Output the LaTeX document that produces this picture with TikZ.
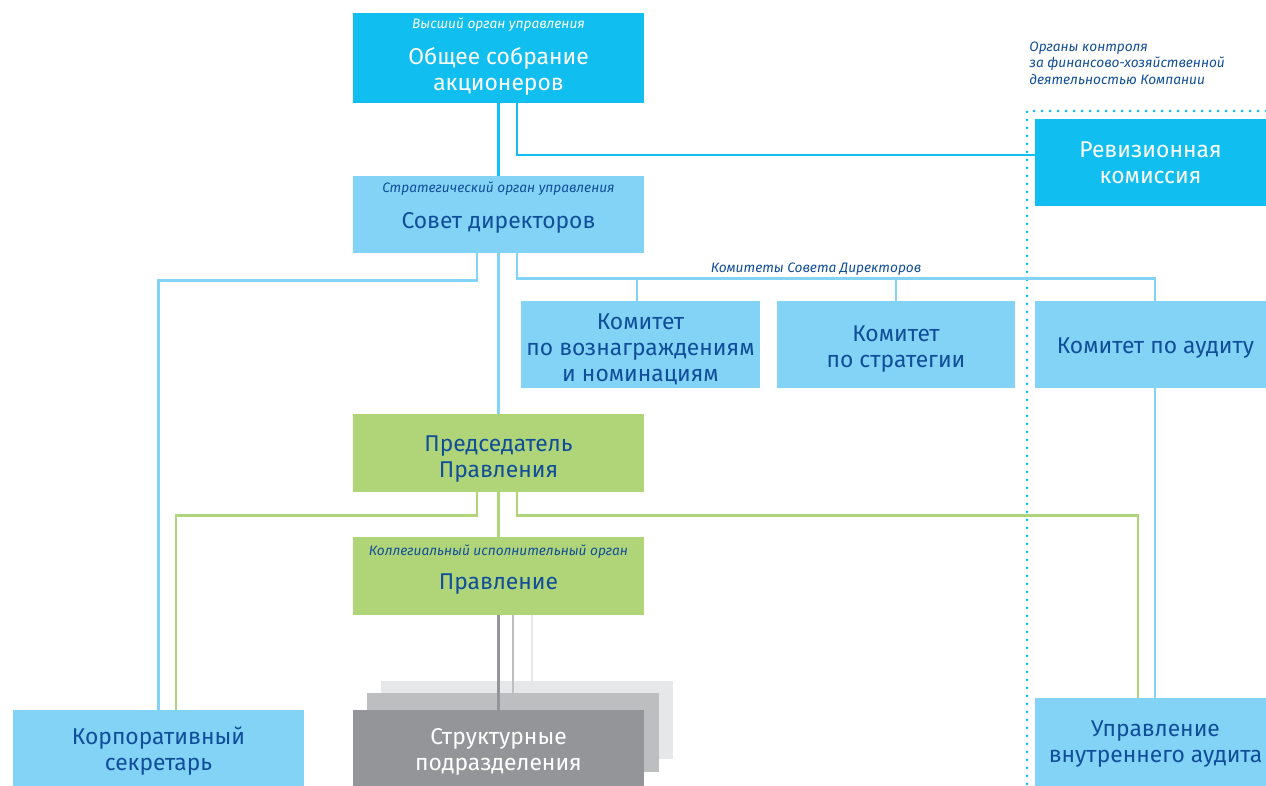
\documentclass[tikz,border=0pt]{standalone}
\usepackage{fontspec}
\setmainfont{Fira Sans}
\usepackage{xcolor}

\definecolor{topblue}{RGB}{16,190,240}
\definecolor{paleblue}{RGB}{131,211,247}
\definecolor{leafgreen}{RGB}{176,213,120}
\definecolor{inkblue}{RGB}{16,78,153}
\definecolor{greyA}{RGB}{147,149,152}
\definecolor{greyB}{RGB}{188,190,192}
\definecolor{greyC}{RGB}{230,231,232}

\begin{document}
\begin{tikzpicture}[x=0.02cm, y=-0.02cm,
    box/.style 2 args={minimum width=#1*0.02cm, minimum height=#2*0.02cm, inner sep=0pt},
    txt/.style={inner sep=0pt, align=center, font=\fontsize{13}{14.8}\selectfont},
    caption/.style={font=\fontsize{7.8}{9.4}\selectfont\itshape, inner sep=0pt},
    link/.style={line width=1.6pt}]

    \useasboundingbox (0,0) rectangle (1266,786);

    % Control bodies frame
    \draw[topblue, line width=1.7pt, line cap=round, dash pattern=on 0pt off 0.16cm]
        (1266,111) -- (1027,111) -- (1027,786);
    \node[caption, inkblue, align=left, anchor=west] (ctrl) at (1029,63)
        {Органы контроля\\за финансово-хозяйственной\\деятельностью Компании};

    % Boxes
    \node[box={291}{90}, fill=topblue] (gms) at (498.5,58) {};
    \node[caption, white] at ([yshift=-0.24cm]gms.north) {Высший орган управления};
    \node[txt, white] at ([yshift=-0.26cm]gms.center) {Общее собрание\\акционеров};

    \node[box={231}{87}, fill=topblue] (rev) at (1150.5,162.5) {};
    \node[txt, white] at (rev.center) {Ревизионная\\комиссия};

    \node[box={291}{77}, fill=paleblue] (board) at (498.5,214.5) {};
    \node[caption, inkblue] at ([yshift=-0.26cm]board.north) {Стратегический орган управления};
    \node[txt, inkblue] at ([yshift=-0.17cm]board.center) {Совет директоров};

    \node[box={239}{87}, fill=paleblue] (com1) at (640.5,344.5) {};
    \node[txt, inkblue] at ([yshift=-0.1cm]com1.center) {Комитет\\по вознаграждениям\\и номинациям};
    \node[box={238}{87}, fill=paleblue] (com2) at (896,344.5) {};
    \node[txt, inkblue] at ([yshift=-0.1cm]com2.center) {Комитет\\по стратегии};
    \node[box={231}{87}, fill=paleblue] (com3) at (1150.5,344.5) {};
    \node[txt, inkblue] at ([xshift=0.1cm, yshift=-0.08cm]com3.center) {Комитет по аудиту};

    \node[box={291}{78}, fill=leafgreen] (chair) at (498.5,453) {};
    \node[txt, inkblue] at ([yshift=-0.12cm]chair.center) {Председатель\\Правления};

    \node[box={291}{78}, fill=leafgreen] (exec) at (498.5,576) {};
    \node[caption, inkblue] at ([yshift=-0.3cm]exec.north) {Коллегиальный исполнительный орган};
    \node[txt, inkblue] at ([yshift=-0.16cm]exec.center) {Правление};

    \node[box={291}{76}, fill=paleblue] (corp) at (158.5,748) {};
    \node[txt, inkblue] at ([yshift=-0.06cm]corp.center) {Корпоративный\\секретарь};

    \node[box={292}{78}, fill=greyC] (units3) at (527,720) {};
    \node[box={292}{79}, fill=greyB] (units2) at (513,732.5) {};
    \node[box={291}{76}, fill=greyA] (units) at (498.5,748) {};
    \node[txt, white] at ([yshift=-0.08cm]units.center) {Структурные\\подразделения};

    \node[box={231}{88}, fill=paleblue] (audit) at (1150.5,742) {};
    \node[txt, inkblue] at ([xshift=0.1cm, yshift=-0.05cm]audit.center) {Управление\\внутреннего аудита};

    % Shareholders links
    \draw[link, topblue] (gms.south) -- (board.north);
    \draw[link, topblue] ([xshift=0.37cm]gms.south) |- ([yshift=0.15cm]rev.west);

    % Board links
    \draw[link, paleblue] ([xshift=-0.43cm]board.south) -- ++(0,27) -| (corp.north);
    \draw[link, paleblue] (board.south) -- (chair.north);
    \draw[link, paleblue] ([xshift=0.37cm]board.south) -- ++(0,25) coordinate (bus)
        -| ([xshift=0.09cm]com3.north);
    \draw[link, paleblue] ([xshift=-0.07cm]com1.north) -- ([xshift=-0.07cm]com1.north |- bus);
    \draw[link, paleblue] (com2.north) -- (com2.north |- bus);
    \node[caption, inkblue] (comlbl) at (816,269) {Комитеты Совета Директоров};
    \draw[link, paleblue] ([xshift=0.09cm]com3.south) -- ([xshift=0.09cm]audit.north);

    % Chairman links
    \draw[link, leafgreen] ([xshift=-0.43cm]chair.south) -- ++(0,23) -| ([xshift=0.35cm]corp.north);
    \draw[link, leafgreen] (chair.south) -- (exec.north);
    \draw[link, leafgreen] ([xshift=0.37cm]chair.south) -- ++(0,23) -| ([xshift=-0.25cm]audit.north);

    % Units links
    \draw[link, greyA] (exec.south) -- (units.north);
    \draw[link, greyB] (units2.north) -- (units2.north |- exec.south);
    \draw[link, greyC] ([xshift=0.1cm]units3.north) -- ++(0,-66);

\end{tikzpicture}
\end{document}
